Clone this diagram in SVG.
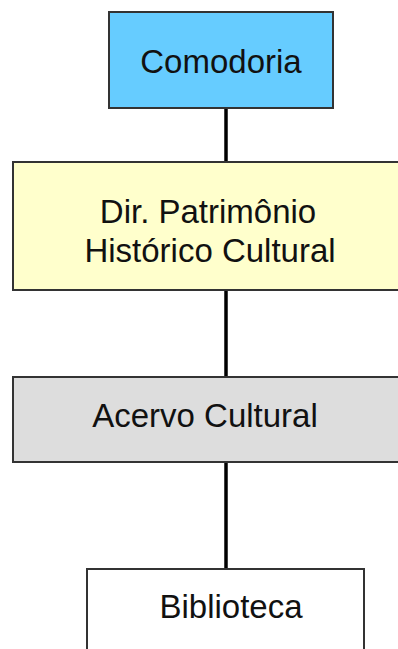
<svg xmlns="http://www.w3.org/2000/svg" width="398" height="649" viewBox="0 0 398 649">
<style>
.box{stroke:#333;stroke-width:2}
.lbl{font-family:"Liberation Sans",Arial,sans-serif;font-size:33px;fill:#111;text-anchor:middle}
.conn{stroke:#000;stroke-width:3.5;fill:none}
</style>
<rect width="398" height="649" fill="#fff"/>
<g id="connectors">
<line class="conn" x1="226" y1="108" x2="226" y2="162"/>
<line class="conn" x1="226" y1="290" x2="226" y2="377"/>
<line class="conn" x1="226" y1="462" x2="226" y2="569"/>
</g>
<g id="comodoria">
<rect class="box" x="109" y="12" width="224" height="96" fill="#66CCFF"/>
<text class="lbl" x="221" y="73">Comodoria</text>
</g>
<g id="dir-patrimonio">
<rect class="box" x="13" y="162" width="392" height="128" fill="#FFFFCC"/>
<text class="lbl" x="208" y="223">Dir. Patrimônio</text>
<text class="lbl" x="210" y="262">Histórico Cultural</text>
</g>
<g id="acervo">
<rect class="box" x="13" y="377" width="392" height="85" fill="#DDDDDD"/>
<text class="lbl" x="205" y="427">Acervo Cultural</text>
</g>
<g id="biblioteca">
<rect class="box" x="87" y="569" width="277" height="100" fill="#FFFFFF"/>
<text class="lbl" x="231" y="618">Biblioteca</text>
</g>
</svg>
